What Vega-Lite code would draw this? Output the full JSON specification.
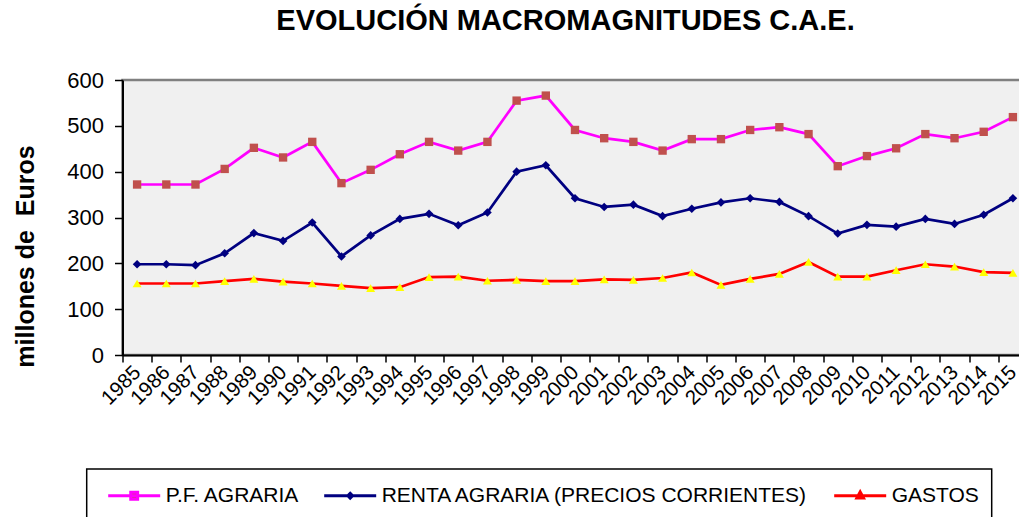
{
  "$schema": "https://vega.github.io/schema/vega-lite/v6.json",
  "width": 898,
  "height": 275,
  "autosize": {"type": "none"},
  "padding": {"left": 122.5, "top": 80, "right": 0, "bottom": 162},
  "background": "white",
  "title": {
    "text": "EVOLUCIÓN MACROMAGNITUDES C.A.E.",
    "font": "Liberation Sans",
    "fontSize": 29,
    "fontWeight": "bold",
    "color": "black",
    "anchor": "middle",
    "frame": "group",
    "dx": -6,
    "offset": 10,
    "baseline": "alphabetic"
  },
  "config": {
    "font": "Liberation Sans",
    "view": {"fill": "#F0F0F0", "stroke": "#808080", "strokeWidth": 2.5}
  },
  "data": {
    "values": [
      {"year": "1985", "series": "P.F. AGRARIA", "value": 372},
      {"year": "1986", "series": "P.F. AGRARIA", "value": 372},
      {"year": "1987", "series": "P.F. AGRARIA", "value": 372},
      {"year": "1988", "series": "P.F. AGRARIA", "value": 406},
      {"year": "1989", "series": "P.F. AGRARIA", "value": 452},
      {"year": "1990", "series": "P.F. AGRARIA", "value": 431},
      {"year": "1991", "series": "P.F. AGRARIA", "value": 465},
      {"year": "1992", "series": "P.F. AGRARIA", "value": 375},
      {"year": "1993", "series": "P.F. AGRARIA", "value": 404},
      {"year": "1994", "series": "P.F. AGRARIA", "value": 438},
      {"year": "1995", "series": "P.F. AGRARIA", "value": 465},
      {"year": "1996", "series": "P.F. AGRARIA", "value": 446},
      {"year": "1997", "series": "P.F. AGRARIA", "value": 465},
      {"year": "1998", "series": "P.F. AGRARIA", "value": 555},
      {"year": "1999", "series": "P.F. AGRARIA", "value": 566},
      {"year": "2000", "series": "P.F. AGRARIA", "value": 491},
      {"year": "2001", "series": "P.F. AGRARIA", "value": 473},
      {"year": "2002", "series": "P.F. AGRARIA", "value": 465},
      {"year": "2003", "series": "P.F. AGRARIA", "value": 446},
      {"year": "2004", "series": "P.F. AGRARIA", "value": 471},
      {"year": "2005", "series": "P.F. AGRARIA", "value": 471},
      {"year": "2006", "series": "P.F. AGRARIA", "value": 491},
      {"year": "2007", "series": "P.F. AGRARIA", "value": 497},
      {"year": "2008", "series": "P.F. AGRARIA", "value": 482},
      {"year": "2009", "series": "P.F. AGRARIA", "value": 412},
      {"year": "2010", "series": "P.F. AGRARIA", "value": 434},
      {"year": "2011", "series": "P.F. AGRARIA", "value": 451},
      {"year": "2012", "series": "P.F. AGRARIA", "value": 482},
      {"year": "2013", "series": "P.F. AGRARIA", "value": 473},
      {"year": "2014", "series": "P.F. AGRARIA", "value": 487},
      {"year": "2015", "series": "P.F. AGRARIA", "value": 519},
      {"year": "1985", "series": "RENTA AGRARIA (PRECIOS CORRIENTES)", "value": 198},
      {"year": "1986", "series": "RENTA AGRARIA (PRECIOS CORRIENTES)", "value": 198},
      {"year": "1987", "series": "RENTA AGRARIA (PRECIOS CORRIENTES)", "value": 196},
      {"year": "1988", "series": "RENTA AGRARIA (PRECIOS CORRIENTES)", "value": 222},
      {"year": "1989", "series": "RENTA AGRARIA (PRECIOS CORRIENTES)", "value": 266},
      {"year": "1990", "series": "RENTA AGRARIA (PRECIOS CORRIENTES)", "value": 249},
      {"year": "1991", "series": "RENTA AGRARIA (PRECIOS CORRIENTES)", "value": 289},
      {"year": "1992", "series": "RENTA AGRARIA (PRECIOS CORRIENTES)", "value": 215},
      {"year": "1993", "series": "RENTA AGRARIA (PRECIOS CORRIENTES)", "value": 261},
      {"year": "1994", "series": "RENTA AGRARIA (PRECIOS CORRIENTES)", "value": 297},
      {"year": "1995", "series": "RENTA AGRARIA (PRECIOS CORRIENTES)", "value": 308},
      {"year": "1996", "series": "RENTA AGRARIA (PRECIOS CORRIENTES)", "value": 283},
      {"year": "1997", "series": "RENTA AGRARIA (PRECIOS CORRIENTES)", "value": 311},
      {"year": "1998", "series": "RENTA AGRARIA (PRECIOS CORRIENTES)", "value": 400},
      {"year": "1999", "series": "RENTA AGRARIA (PRECIOS CORRIENTES)", "value": 414},
      {"year": "2000", "series": "RENTA AGRARIA (PRECIOS CORRIENTES)", "value": 342},
      {"year": "2001", "series": "RENTA AGRARIA (PRECIOS CORRIENTES)", "value": 323},
      {"year": "2002", "series": "RENTA AGRARIA (PRECIOS CORRIENTES)", "value": 328},
      {"year": "2003", "series": "RENTA AGRARIA (PRECIOS CORRIENTES)", "value": 303},
      {"year": "2004", "series": "RENTA AGRARIA (PRECIOS CORRIENTES)", "value": 319},
      {"year": "2005", "series": "RENTA AGRARIA (PRECIOS CORRIENTES)", "value": 333},
      {"year": "2006", "series": "RENTA AGRARIA (PRECIOS CORRIENTES)", "value": 342},
      {"year": "2007", "series": "RENTA AGRARIA (PRECIOS CORRIENTES)", "value": 334},
      {"year": "2008", "series": "RENTA AGRARIA (PRECIOS CORRIENTES)", "value": 303},
      {"year": "2009", "series": "RENTA AGRARIA (PRECIOS CORRIENTES)", "value": 265},
      {"year": "2010", "series": "RENTA AGRARIA (PRECIOS CORRIENTES)", "value": 284},
      {"year": "2011", "series": "RENTA AGRARIA (PRECIOS CORRIENTES)", "value": 280},
      {"year": "2012", "series": "RENTA AGRARIA (PRECIOS CORRIENTES)", "value": 297},
      {"year": "2013", "series": "RENTA AGRARIA (PRECIOS CORRIENTES)", "value": 286},
      {"year": "2014", "series": "RENTA AGRARIA (PRECIOS CORRIENTES)", "value": 306},
      {"year": "2015", "series": "RENTA AGRARIA (PRECIOS CORRIENTES)", "value": 342},
      {"year": "1985", "series": "GASTOS", "value": 156},
      {"year": "1986", "series": "GASTOS", "value": 156},
      {"year": "1987", "series": "GASTOS", "value": 156},
      {"year": "1988", "series": "GASTOS", "value": 161},
      {"year": "1989", "series": "GASTOS", "value": 166},
      {"year": "1990", "series": "GASTOS", "value": 160},
      {"year": "1991", "series": "GASTOS", "value": 156},
      {"year": "1992", "series": "GASTOS", "value": 151},
      {"year": "1993", "series": "GASTOS", "value": 146},
      {"year": "1994", "series": "GASTOS", "value": 148},
      {"year": "1995", "series": "GASTOS", "value": 170},
      {"year": "1996", "series": "GASTOS", "value": 171},
      {"year": "1997", "series": "GASTOS", "value": 162},
      {"year": "1998", "series": "GASTOS", "value": 164},
      {"year": "1999", "series": "GASTOS", "value": 161},
      {"year": "2000", "series": "GASTOS", "value": 161},
      {"year": "2001", "series": "GASTOS", "value": 165},
      {"year": "2002", "series": "GASTOS", "value": 164},
      {"year": "2003", "series": "GASTOS", "value": 168},
      {"year": "2004", "series": "GASTOS", "value": 180},
      {"year": "2005", "series": "GASTOS", "value": 153},
      {"year": "2006", "series": "GASTOS", "value": 166},
      {"year": "2007", "series": "GASTOS", "value": 177},
      {"year": "2008", "series": "GASTOS", "value": 203},
      {"year": "2009", "series": "GASTOS", "value": 171},
      {"year": "2010", "series": "GASTOS", "value": 171},
      {"year": "2011", "series": "GASTOS", "value": 185},
      {"year": "2012", "series": "GASTOS", "value": 198},
      {"year": "2013", "series": "GASTOS", "value": 193},
      {"year": "2014", "series": "GASTOS", "value": 181},
      {"year": "2015", "series": "GASTOS", "value": 179}
    ]
  },
  "encoding": {
    "x": {
      "field": "year",
      "type": "ordinal",
      "scale": {"type": "band", "range": [0, 905], "paddingInner": 0, "paddingOuter": 0},
      "axis": {
        "title": null,
        "labelAngle": -45,
        "labelAlign": "right",
        "labelBaseline": "middle",
        "labelFont": "Liberation Sans",
        "labelFontSize": 20.5,
        "labelColor": "black",
        "labelPadding": 7,
        "labelOverlap": false,
        "tickBand": "extent",
        "tickSize": 7,
        "tickColor": "black",
        "tickWidth": 1.5,
        "domainColor": "black",
        "domainWidth": 2,
        "grid": false
      }
    },
    "y": {
      "field": "value",
      "type": "quantitative",
      "scale": {"domain": [0, 600], "nice": false},
      "axis": {
        "title": "millones de\u00a0 Euros",
        "titleFont": "Liberation Sans",
        "titleFontSize": 25,
        "titleFontWeight": "bold",
        "titleColor": "black",
        "titleAngle": 270,
        "titleBaseline": "alphabetic",
        "titleAlign": "center",
        "titleX": -89.5,
        "titleY": 176,
        "values": [0, 100, 200, 300, 400, 500, 600],
        "labelFont": "Liberation Sans",
        "labelFontSize": 22,
        "labelColor": "black",
        "labelPadding": 11,
        "tickSize": 8,
        "tickColor": "black",
        "tickWidth": 1.5,
        "domainColor": "black",
        "domainWidth": 2,
        "grid": false
      }
    }
  },
  "layer": [
    {
      "mark": {"type": "line", "strokeWidth": 2.7},
      "encoding": {
        "color": {
          "field": "series",
          "type": "nominal",
          "scale": {
            "domain": ["P.F. AGRARIA", "RENTA AGRARIA (PRECIOS CORRIENTES)", "GASTOS"],
            "range": ["#FF00FF", "#000080", "#FF0000"]
          },
          "legend": {
            "title": null,
            "orient": "none",
            "legendX": -35.8,
            "legendY": 389,
            "direction": "horizontal",
            "fillColor": "white",
            "strokeColor": "black",
            "padding": 12,
            "columnPadding": 15,
            "symbolType": "M-0.385,0H3.615",
            "symbolSize": 676,
            "symbolStrokeWidth": 3,
            "labelFont": "Liberation Sans",
            "labelFontSize": 21,
            "labelColor": "black",
            "labelOffset": 38,
            "labelLimit": 800,
            "encode": {
              "legend": {
                "update": {"strokeWidth": {"value": 1.5}}
              },
              "symbols": {
                "update": {
                  "shape": {"signal": "datum.value === 'P.F. AGRARIA' ? 'M-0.385,0H3.615M1.35,-0.27H1.88V0.27H1.35Z' : datum.value === 'GASTOS' ? 'M-0.385,0H3.615M1.615,-0.3L1.87,0.18H1.36Z' : 'M-0.385,0H3.615M1.615,-0.18L1.795,0L1.615,0.18L1.435,0Z'"},
                  "fill": {"signal": "datum.value === 'P.F. AGRARIA' ? '#C0504D' : datum.value === 'GASTOS' ? '#FFFF00' : '#000080'"}
                }
              }
            }
          }
        }
      }
    },
    {
      "transform": [{"filter": "datum.series === 'P.F. AGRARIA'"}],
      "mark": {"type": "point", "shape": "square", "filled": true, "opacity": 1, "size": 70, "fill": "#C0504D"}
    },
    {
      "transform": [{"filter": "datum.series === 'RENTA AGRARIA (PRECIOS CORRIENTES)'"}],
      "mark": {"type": "point", "shape": "diamond", "filled": true, "opacity": 1, "size": 75, "fill": "#000080"}
    },
    {
      "transform": [{"filter": "datum.series === 'GASTOS'"}],
      "mark": {"type": "point", "shape": "triangle-up", "filled": true, "opacity": 1, "size": 80, "fill": "#FFFF00"}
    }
  ]
}
